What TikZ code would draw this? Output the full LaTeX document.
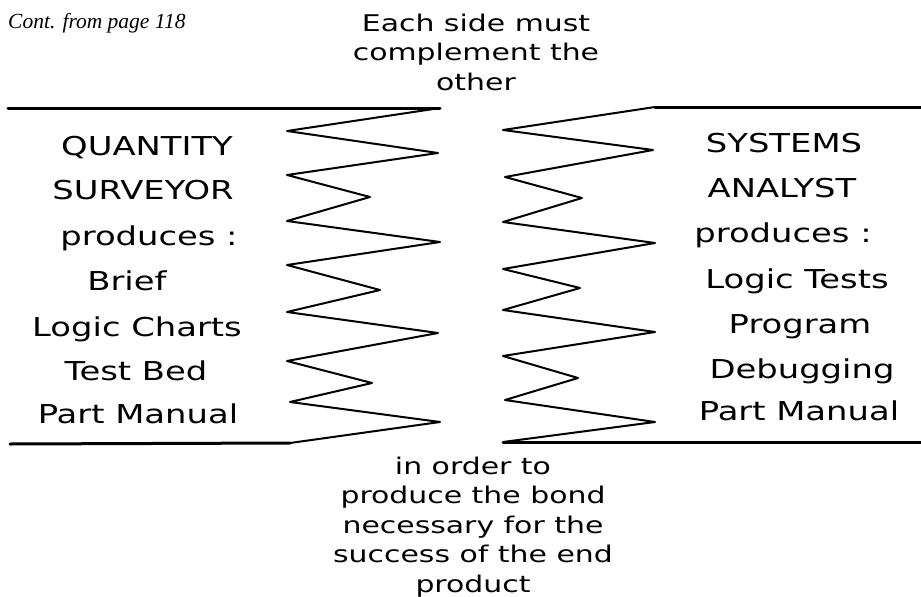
\documentclass[tikz,border=0pt]{standalone}
\usepackage{fontspec}
\newfontfamily\widefont{DejaVu Sans}[FakeStretch=1.3]
\newfontfamily\notefont{Liberation Serif}
\usetikzlibrary{positioning}

\tikzset{
  sidetext/.style={anchor=base, inner sep=0pt, font=\widefont\fontsize{26}{30}\selectfont},
  bandtext/.style={anchor=base, inner sep=0pt, align=center, font=\widefont\fontsize{23}{29.5}\selectfont},
  bandline/.style={line width=3pt, line cap=round},
  zigzag/.style={line width=2pt, line join=round},
}

\begin{document}
\begin{tikzpicture}[x=1pt, y=-1pt]
  \useasboundingbox (0,0) rectangle (921,597);

  % page note and the two captions (base = last line)
  \node[anchor=base west, inner sep=0pt, font=\notefont\itshape\fontsize{21.5}{24}\selectfont]
    (note) at (8,28) {Cont. from page 118};
  \node[bandtext] (head) at (476,90) {Each side must\\complement the\\other};
  \node[bandtext] (foot) at (473,592) {in order to\\produce the bond\\necessary for the\\success of the end\\product};

  % left side: quantity surveyor
  \draw[bandline] (8,108) -- (440,108);
  \draw[bandline] (10,444) -- (290,443);
  \draw[zigzag] (440,108) -- (287,131) -- (438,153) -- (287,175) -- (370,197)
    -- (287,221) -- (440,242) -- (287,265) -- (380,290) -- (287,312) -- (438,333)
    -- (287,361) -- (372,383) -- (290,402) -- (440,422) -- (290,443);

  % right side: systems analyst
  \draw[bandline] (655,107) -- (921,107);
  \draw[bandline] (503,442) -- (921,442);
  \draw[zigzag] (655,107) -- (503,130) -- (653,150) -- (505,177) -- (582,198)
    -- (503,222) -- (655,243) -- (503,269) -- (580,288) -- (503,310) -- (655,332)
    -- (503,356) -- (578,378) -- (505,400) -- (655,422) -- (503,442);

  \foreach \nm/\x/\y/\txt in {qs1/147/155/QUANTITY, qs2/143/199/SURVEYOR,
      qs3/149/245/produces :, qs4/127/290/Brief, qs5/137/336/Logic Charts,
      qs6/136/380/Test Bed, qs7/138/423/Part Manual}
    \node[sidetext] (\nm) at (\x,\y) {\txt};

  \foreach \nm/\x/\y/\txt in {sa1/784/152/SYSTEMS, sa2/782/197/ANALYST,
      sa3/783/242/produces :, sa4/797/288/Logic Tests, sa5/800/333/Program,
      sa6/802/378/Debugging, sa7/799/420/Part Manual}
    \node[sidetext] (\nm) at (\x,\y) {\txt};
\end{tikzpicture}
\end{document}
